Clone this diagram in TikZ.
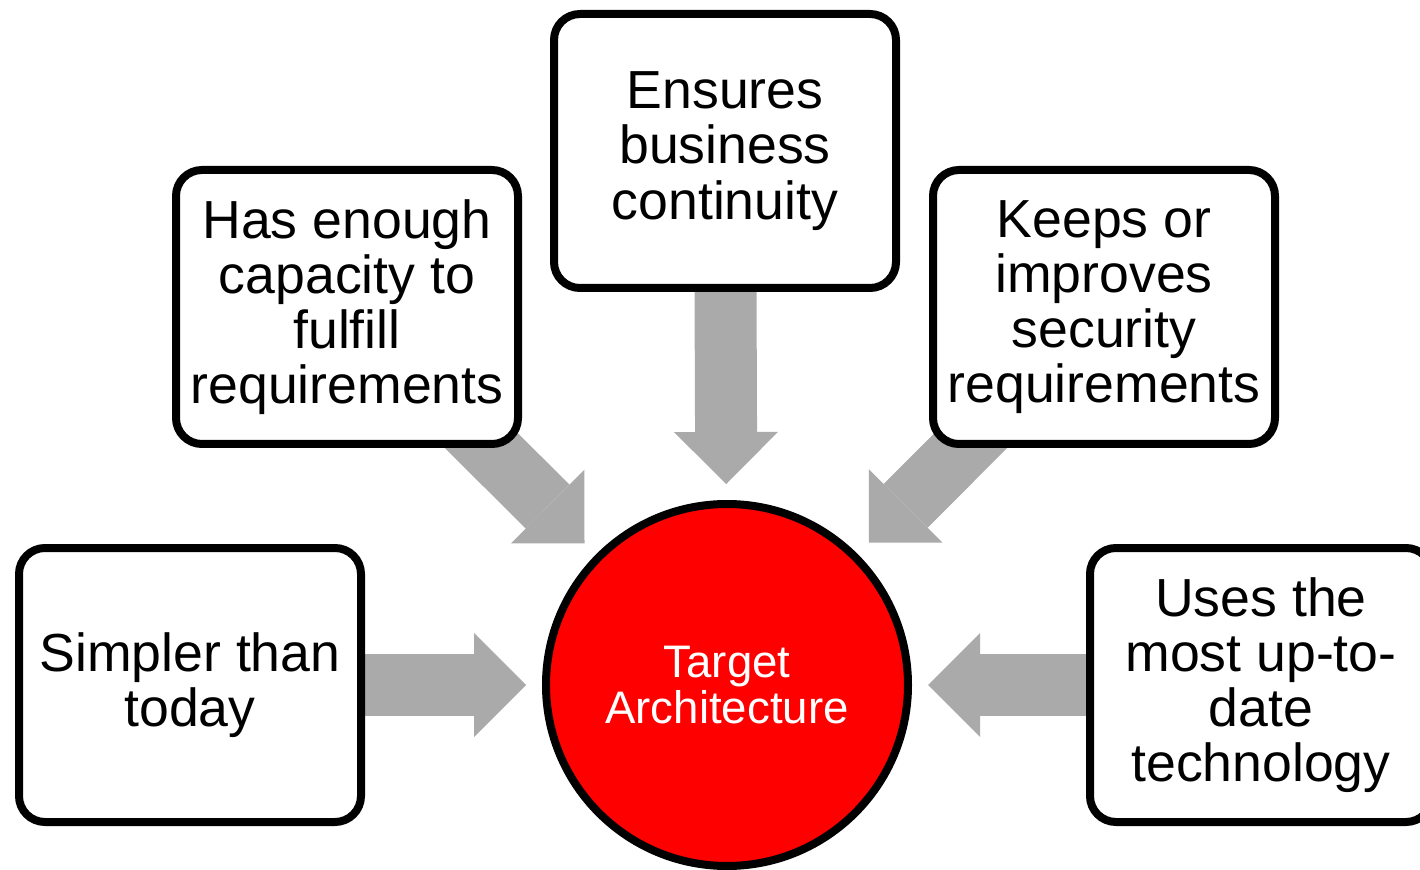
\documentclass[tikz,border=0pt]{standalone}
\usepackage{fontspec}
\setmainfont{Liberation Sans}
\usetikzlibrary{arrows.meta,backgrounds}
\definecolor{arrowgray}{RGB}{170,170,170}
\definecolor{hubred}{RGB}{255,0,0}
\begin{document}
\begin{tikzpicture}[x=0.5pt,y=0.5pt,line width=4pt,
		goal/.style={draw,fill=white,rounded corners=13pt,minimum width=171pt,minimum height=137pt,inner sep=0pt,align=center,font=\fontsize{26.8pt}{27.6pt}\selectfont},
		hub/.style={circle,draw,fill=hubred,minimum size=181pt,inner sep=0pt,align=center,text=white,font=\fontsize{22.8pt}{23pt}\selectfont},
		fatarrow/.style={draw=arrowgray,line width=31pt,-{Triangle[width=52pt,length=26pt,line width=0pt]},shorten >=8pt}]
		\path[use as bounding box,clip] (0,0) rectangle (1420,869);
		\node[hub] (arch) at (727,184) {Target\\Architecture};
		\node[goal] (continuity) at (725,718) {Ensures\\business\\continuity};
		\node[goal] (capacity) at (347,562) {Has enough\\capacity to\\fulfill\\requirements};
		\node[goal] (security) at (1104,562) {Keeps or\\improves\\security\\requirements};
		\node[goal] (simpler) at (190,184) {Simpler than\\today};
		\node[goal] (technology) at (1261,184) {Uses the\\most up-to-\\date\\technology};
		\begin{pgfonlayer}{background}
			\draw[fatarrow] (continuity.center) -- (arch);
			\draw[fatarrow] (capacity.center) -- (arch);
			\draw[fatarrow] (security.center) -- (arch);
			\draw[fatarrow] (simpler.center) -- (arch);
			\draw[fatarrow] (technology.center) -- (arch);
		\end{pgfonlayer}
	\end{tikzpicture}
\end{document}
